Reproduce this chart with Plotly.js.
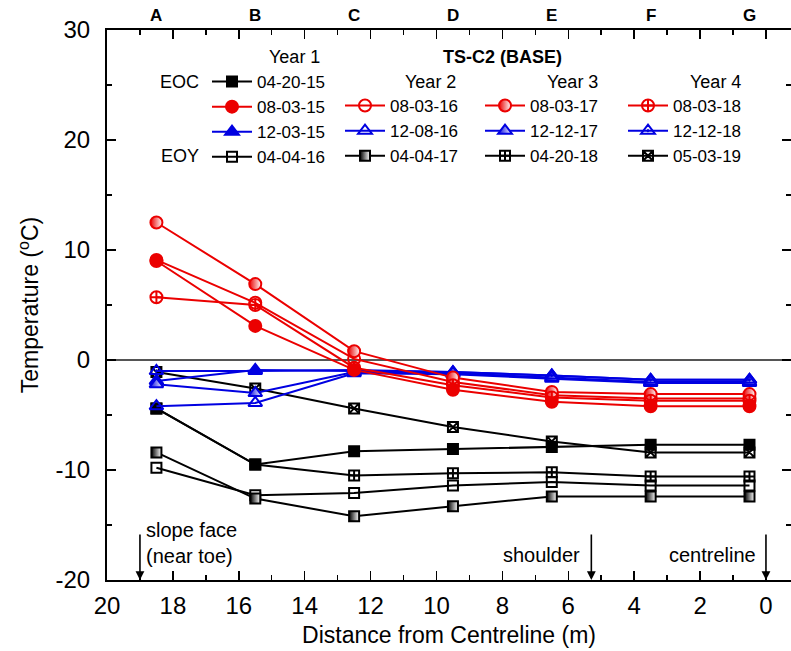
<!DOCTYPE html>
<html>
<head>
<meta charset="utf-8">
<script src="https://cdn.plot.ly/plotly-3.0.1.min.js"></script>
<style>html,body{margin:0;padding:0;background:#fff;}#chart{width:791px;height:651px;}</style>
</head>
<body>
<div id="chart"></div>
<script>
// ---------- data ----------
const positions = [18.5, 15.5, 12.5, 9.5, 6.5, 3.5, 0.5];
const stations  = ['A', 'B', 'C', 'D', 'E', 'F', 'G'];

// EOC / EOY (black)
const t_042015 = [-4.4, -9.5, -8.3, -8.1, -7.9, -7.7, -7.7];
const t_040416 = [-9.8, -12.3, -12.1, -11.4, -11.1, -11.4, -11.4];
const t_040417 = [-8.4, -12.6, -14.2, -13.3, -12.4, -12.4, -12.4];
const t_042018 = [-4.4, -9.5, -10.5, -10.3, -10.2, -10.6, -10.6];
const t_050319 = [-1.1, -2.6, -4.4, -6.1, -7.4, -8.4, -8.4];
// summer (red)
const t_080315 = [9.0, 3.1, -0.9, -2.7, -3.8, -4.2, -4.2];
const t_080316 = [9.1, 5.2, 0.1, -2.0, -3.2, -3.5, -3.5];
const t_080317 = [12.5, 6.9, 0.8, -1.6, -2.9, -3.1, -3.1];
const t_080318 = [5.7, 5.0, -0.7, -2.3, -3.4, -3.7, -3.7];
// winter (blue)
const t_120315 = [-1.9, -0.9, -1.0, -1.1, -1.4, -1.8, -1.8];
const t_120816 = [-4.2, -3.9, -1.2, -1.3, -1.7, -2.1, -2.1];
const t_121217 = [-2.2, -3.0, -1.1, -1.2, -1.6, -2.0, -2.0];
const t_121218 = [-1.0, -1.0, -0.9, -1.1, -1.4, -1.8, -1.8];

const yTickVals  = [-20, -10, 0, 10, 20, 30];
const yTickText  = ['-20', '-10', '0', '10', '20', '30'];
const yearLabels = ['Year 1', 'Year 2', 'Year 3', 'Year 4'];
const markerNotes = ['slope face<br>(near toe)', 'shoulder', 'centreline'];
const markerAt = [19, 5.3, 0];

// ---------- styling ----------
const BLACK = '#000000', RED = 'rgb(235,0,0)', BLUE = 'rgb(0,0,225)';
const FONT = 'Liberation Sans, Arial, sans-serif';

const series = [
  {name:'04-20-15', y:t_042015, c:BLACK, s:'square',               sz:10, lg:'legend',  rk:1},
  {name:'04-04-16', y:t_040416, c:BLACK, s:'square-open',          sz:10, lg:'legend',  rk:4},
  {name:'04-04-17', y:t_040417, c:BLACK, s:'square', half:true,    sz:10, lg:'legend2', rk:4},
  {name:'04-20-18', y:t_042018, c:BLACK, s:'square-cross-open',    sz:10, lg:'legend3', rk:4},
  {name:'05-03-19', y:t_050319, c:BLACK, s:'square-x-open',        sz:10, lg:'legend4', rk:4},
  {name:'12-03-15', y:t_120315, c:BLUE,  s:'triangle-up',          sz:12, lg:'legend',  rk:3},
  {name:'12-08-16', y:t_120816, c:BLUE,  s:'triangle-up-open',     sz:12, lg:'legend2', rk:3},
  {name:'12-12-17', y:t_121217, c:BLUE,  s:'triangle-up', half:true, sz:12, lg:'legend3', rk:3},
  {name:'12-12-18', y:t_121218, c:BLUE,  s:'triangle-up-open-dot', sz:12, lg:'legend4', rk:3},
  {name:'08-03-15', y:t_080315, c:RED,   s:'circle',               sz:12, lg:'legend',  rk:2},
  {name:'08-03-16', y:t_080316, c:RED,   s:'circle-open',          sz:12, lg:'legend2', rk:2},
  {name:'08-03-17', y:t_080317, c:RED,   s:'circle', half:true,    sz:12, lg:'legend3', rk:2},
  {name:'08-03-18', y:t_080318, c:RED,   s:'circle-cross-open',    sz:12, lg:'legend4', rk:2}
];

const traces = series.map(d => {
  const marker = {symbol:d.s, size:d.sz, color:d.c, line:{color:d.c, width:2}};
  if (d.half) marker.gradient = {type:'horizontal', color:'#ffffff'};
  return {
    type:'scatter', mode:'lines+markers', name:d.name,
    x:positions, y:d.y,
    line:{color:d.c, width:2},
    marker:marker,
    legend:d.lg, legendrank:d.rk
  };
});

// pixel -> paper helpers (plot area: x 107..791, y 30..580)
const L = 107, R = 791, T = 30, B = 580;
const px = x => (x - L) / (R - L);
const py = y => (B - y) / (B - T);

function txt(text, x, y, xa, size, extra) {
  return Object.assign({x:px(x), y:py(y), xref:'paper', yref:'paper', xanchor:xa, yanchor:'middle',
    text:text, showarrow:false, font:{family:FONT, size:size, color:'#000'}}, extra || {});
}

const annotations = [];
stations.forEach((s, i) => annotations.push({
  x: positions[i], xref:'x', y:1, yref:'paper', xanchor:'center', yanchor:'bottom', yshift:3,
  text:'<b>' + s + '</b>', showarrow:false, font:{family:FONT, size:17, color:'#000'}
}));
const yearX = [294, 430, 572, 715];
const yearY = [57, 82, 82, 82];
yearLabels.forEach((t, i) => annotations.push(txt(t, yearX[i], yearY[i], 'center', 18)));
annotations.push(txt('<b>TS-C2 (BASE)</b>', 502, 57, 'center', 18));
annotations.push(txt('EOC', 201, 82, 'right', 18));
annotations.push(txt('EOY', 201, 156, 'right', 18));
// arrows
markerAt.forEach(v => annotations.push({
  x:v, xref:'x', y:-20, yref:'y', text:'', showarrow:true, ax:0, ay:-47,
  arrowhead:2, arrowsize:1.1, arrowwidth:1.6, arrowcolor:'#000', standoff:0
}));
annotations.push(txt(markerNotes[0], 144, 543, 'left', 20, {align:'left'}));
annotations.push(txt(markerNotes[1], 582, 555, 'right', 20));
annotations.push(txt(markerNotes[2], 758, 555, 'right', 20));

const legendBase = {xanchor:'left', yanchor:'top', bgcolor:'rgba(0,0,0,0)', borderwidth:0,
  font:{family:FONT, size:17, color:'#000'}, traceorder:'normal', itemwidth:40};
const layout = {
  width:791, height:651,
  margin:{l:L, r:791 - R, t:T, b:651 - B, pad:0},
  paper_bgcolor:'#fff', plot_bgcolor:'#fff',
  font:{family:FONT, color:'#000'},
  showlegend:true,
  legend: Object.assign({}, legendBase, {x:px(207), y:py(64)}),
  legend2:Object.assign({}, legendBase, {x:px(340), y:py(88)}),
  legend3:Object.assign({}, legendBase, {x:px(480), y:py(88)}),
  legend4:Object.assign({}, legendBase, {x:px(623), y:py(88)}),
  xaxis:{
    range:[20, -0.76], tick0:0, dtick:2, ticks:'inside', ticklen:9, tickwidth:1.5, tickcolor:'#000',
    showline:true, linecolor:'#000', linewidth:2, mirror:'ticks', showgrid:false, zeroline:false,
    tickfont:{family:FONT, size:24}, ticklabelstandoff:3,
    minor:{dtick:1, ticks:'inside', ticklen:5, tickwidth:1.5, tickcolor:'#000', showgrid:false},
    title:{text:'Distance from Centreline (m)', font:{family:FONT, size:23}, standoff:9}
  },
  yaxis:{
    range:[-20, 30], tickmode:'array', tickvals:yTickVals, ticktext:yTickText,
    ticks:'inside', ticklen:9, tickwidth:1.5, tickcolor:'#000',
    showline:true, linecolor:'#000', linewidth:2, mirror:'ticks', showgrid:false,
    zeroline:true, zerolinecolor:'#555', zerolinewidth:1.5,
    tickfont:{family:FONT, size:24}, ticklabelstandoff:10,
    minor:{dtick:5, ticks:'inside', ticklen:5, tickwidth:1.5, tickcolor:'#000', showgrid:false},
    title:{text:'Temperature (<sup>o</sup>C)', font:{family:FONT, size:23}, standoff:10}
  },
  annotations:annotations
};

Plotly.newPlot('chart', traces, layout, {displayModeBar:false, staticPlot:true});
</script>
</body>
</html>
